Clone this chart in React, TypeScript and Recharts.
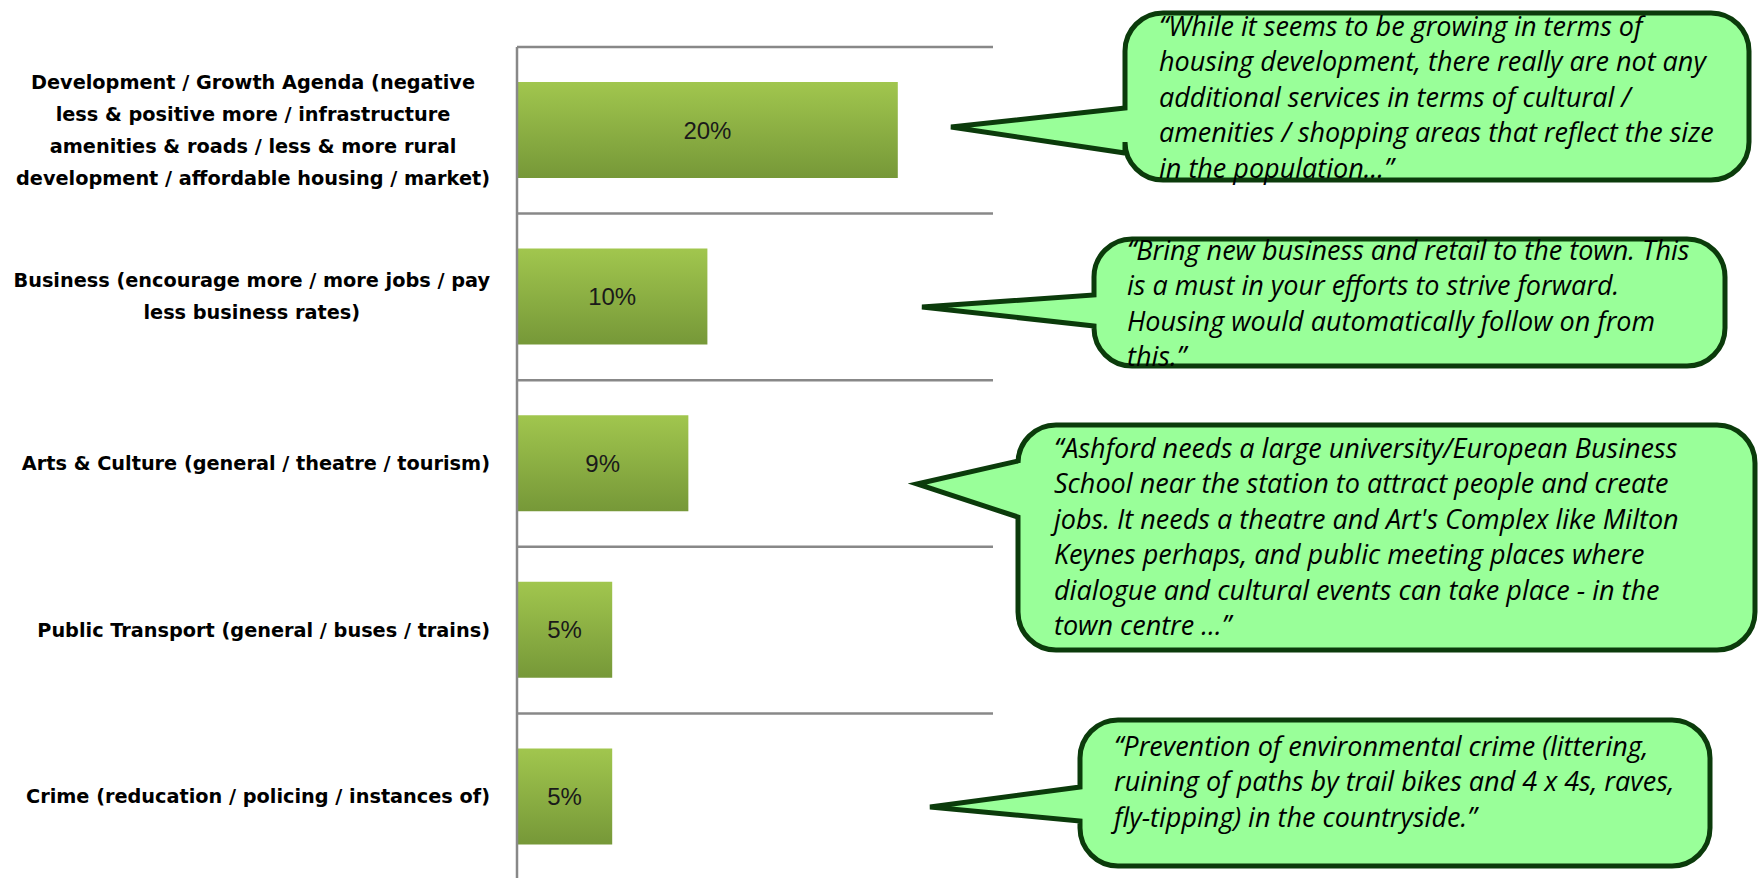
import React from "react";
import { BarChart, Bar, XAxis, YAxis, CartesianGrid, LabelList, Customized } from "recharts";

// categories (line breaks as in the source labels)
const categories = [
  "Development / Growth Agenda (negative\nless & positive more / infrastructure\namenities & roads / less & more rural\ndevelopment / affordable housing / market)",
  "Business (encourage more / more jobs / pay\nless business rates)",
  "Arts & Culture (general / theatre / tourism)",
  "Public Transport (general / buses / trains)",
  "Crime (reducation / policing / instances of)",
];
const shares = [20, 10, 9, 5, 5];

const quotes = [
  [
    "\u201CWhile it seems to be growing in terms of",
    "housing development, there really are not any",
    "additional services in terms of cultural /",
    "amenities / shopping areas that reflect the size",
    "in the population...\u201D",
  ],
  [
    "\u201CBring new business and retail to the town. This",
    "is a must in your efforts to strive forward.",
    "Housing would automatically follow on from",
    "this.\u201D",
  ],
  [
    "\u201CAshford needs a large university/European Business",
    "School near the station to attract people and create",
    "jobs. It needs a theatre and Art's Complex like Milton",
    "Keynes perhaps, and public meeting places where",
    "dialogue and cultural events can take place - in the",
    "town centre \u2026\u201D",
  ],
  [
    "\u201CPrevention of environmental crime (littering,",
    "ruining of paths by trail bikes and 4 x 4s, raves,",
    "fly-tipping) in the countryside.\u201D",
  ],
];

const data = categories.map((name, i) => ({ name, value: shares[i] }));

const W = 1764;
const H = 880;
const LABEL_SIZE = 19.3;
const LABEL_FONT = `bold ${LABEL_SIZE}px "DejaVu Sans"`;

let ctx: CanvasRenderingContext2D | null = null;
const measure = (s: string) => {
  if (!ctx) ctx = document.createElement("canvas").getContext("2d");
  if (!ctx) return s.length * 10;
  ctx.font = LABEL_FONT;
  return ctx.measureText(s).width;
};

const CategoryTick = (props: any) => {
  const { x, y, payload } = props;
  const lines: string[] = String(payload.value).split("\n");
  const maxW = Math.max(...lines.map(measure));
  const cx = x - 19 - maxW / 2;
  const lh = 32;
  const y0 = y - ((lines.length - 1) * lh) / 2;
  return (
    <text textAnchor="middle" fontFamily="DejaVu Sans" fontWeight="bold" fontSize={LABEL_SIZE} fill="#000">
      {lines.map((l, i) => (
        <tspan key={i} x={cx} y={y0 + i * lh} dominantBaseline="central">
          {l}
        </tspan>
      ))}
    </text>
  );
};

// callout boxes: [left, top, right, bottom, tipX, tipY, baseTop, baseBottom, textX, firstLineY]
const boxes = [
  [1125, 13, 1749, 180, 951, 127, 108, 153, 1159, 25],
  [1094, 239, 1725, 366, 922, 307, 295, 326, 1127, 249],
  [1018, 425, 1755, 650, 917, 484, 461, 517, 1054, 447],
  [1080, 720, 1710, 866, 930, 807, 787, 821, 1114, 745],
];

const bubblePath = (b: number[]) => {
  const [x0, y0, x1, y1, tx, ty, bt, bb] = b;
  const r = 38;
  return `M ${x0 + r} ${y0} H ${x1 - r} A ${r} ${r} 0 0 1 ${x1} ${y0 + r} V ${y1 - r} A ${r} ${r} 0 0 1 ${x1 - r} ${y1} H ${x0 + r} A ${r} ${r} 0 0 1 ${x0} ${y1 - r} V ${bb} L ${tx} ${ty} L ${x0} ${bt} V ${y0 + r} A ${r} ${r} 0 0 1 ${x0 + r} ${y0} Z`;
};

const Callouts = () => (
  <g>
    {boxes.map((b, i) => (
      <g key={i}>
        <path d={bubblePath(b)} fill="#99ff99" stroke="#0b3b0b" strokeWidth={5} strokeLinejoin="miter" />
        <text fontFamily="'Open Sans'" fontStyle="italic" fontSize={27} fill="#000">
          {quotes[i].map((l, j) => (
            <tspan key={j} x={b[8]} y={b[9] + j * 35.5} dominantBaseline="central">
              {l}
            </tspan>
          ))}
        </text>
      </g>
    ))}
  </g>
);

export default function App() {
  return (
    <div style={{ position: "absolute", left: 0, top: 0, width: W, height: 878, overflow: "hidden", background: "#fff" }}>
      <BarChart
        width={W}
        height={H}
        data={data}
        layout="vertical"
        margin={{ top: 47, right: 771, bottom: 0, left: 0 }}
        barSize={96}
      >
        <defs>
          <linearGradient id="barFill" x1="0" y1="0" x2="0" y2="1">
            <stop offset="0%" stopColor="#a1c64e" />
            <stop offset="100%" stopColor="#769838" />
          </linearGradient>
        </defs>
        <CartesianGrid
          vertical={false}
          stroke="#888"
          strokeWidth={2.5}
          horizontalCoordinatesGenerator={({ offset }: any) =>
            Array.from({ length: categories.length + 1 }, (_, i) => offset.top + (i * offset.height) / categories.length)
          }
        />
        <XAxis type="number" domain={[0, 25]} hide />
        <YAxis
          type="category"
          dataKey="name"
          width={517}
          axisLine={{ stroke: "#888", strokeWidth: 2.5 }}
          tickLine={false}
          tick={<CategoryTick />}
          interval={0}
        />
        <Bar dataKey="value" fill="url(#barFill)" isAnimationActive={false}>
          <LabelList
            dataKey="value"
            position="center"
            formatter={(v: any) => `${v}%`}
            fill="#1a1a1a"
            fontSize={24}
            fontFamily="Liberation Sans"
          />
        </Bar>
        <Customized component={Callouts} />
      </BarChart>
    </div>
  );
}
